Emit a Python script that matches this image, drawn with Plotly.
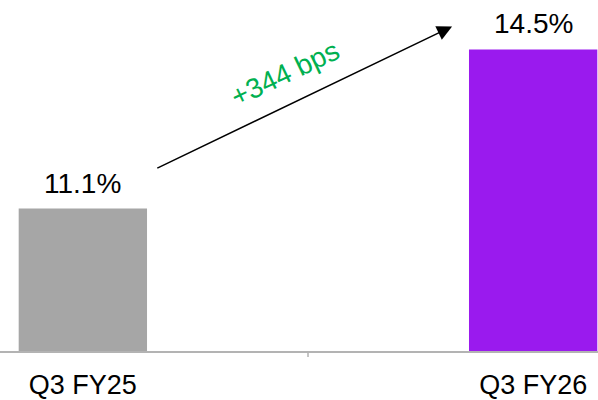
import plotly.graph_objects as go

categories = ["Q3 FY25", "Q3 FY26"]
values = [11.1, 14.5]
value_labels = ["11.1%", "14.5%"]
bar_colors = ["#A6A6A6", "#9A1AEE"]
change_label = "+344 bps"

FONT = "Liberation Sans, Arial, sans-serif"

fig = go.Figure()
fig.add_trace(go.Bar(
    x=[0, 1], y=values,
    marker=dict(color=bar_colors, line=dict(width=0)),
    width=0.285,
    hoverinfo="skip",
))

for i, (v, lab) in enumerate(zip(values, value_labels)):
    fig.add_annotation(x=i, y=v, text=lab, showarrow=False,
                       xanchor="center", yanchor="bottom", yshift=8,
                       font=dict(family=FONT, size=28, color="#000000"))

# arrow from above first bar label toward second bar label
fig.add_annotation(x=0.82, y=14.99, ax=0.162, ay=11.95,
                   xref="x", yref="y", axref="x", ayref="y",
                   text="", showarrow=True, arrowhead=2, arrowsize=2.0,
                   arrowwidth=1.5, arrowcolor="#000000")
fig.add_annotation(x=0.449, y=13.99, text=change_label, showarrow=False,
                   textangle=-25.5, xanchor="center", yanchor="middle",
                   font=dict(family=FONT, size=28, color="#00B050"))

fig.update_layout(
    width=598, height=400,
    margin=dict(l=0, r=0, t=0, b=45),
    paper_bgcolor="white", plot_bgcolor="white",
    showlegend=False,
    xaxis=dict(
        range=[-0.184, 1.144],
        tickvals=[0, 1], ticktext=categories,
        showline=True, linecolor="#B3B3B3", linewidth=1.5,
        ticks="", showgrid=False, zeroline=False,
        tickfont=dict(family=FONT, size=27, color="#000000"),
        ticklabelstandoff=9,
    ),
    yaxis=dict(range=[8.059, 15.556], visible=False, showgrid=False, zeroline=False),
)

# boundary tick between the two categories
fig.add_shape(type="line", xref="x", yref="paper", x0=0.5, x1=0.5,
              y0=0, y1=-0.017, line=dict(color="#B3B3B3", width=1.5))

fig.write_html("out.html", config={"displayModeBar": False},
               post_script="document.body.style.margin='0';document.body.style.padding='0';")
